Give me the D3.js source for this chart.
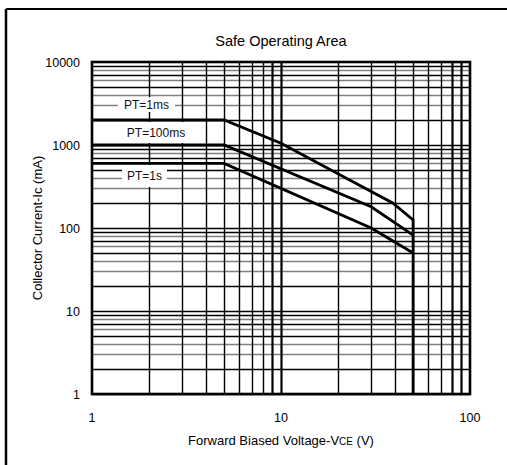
<!DOCTYPE html>
<html>
<head>
<meta charset="utf-8">
<script src="https://cdn.jsdelivr.net/npm/d3@7"></script>
<style>
  body { margin: 0; background: #fff; }
  svg { display: block; font-family: "Liberation Sans", Arial, sans-serif; }
</style>
</head>
<body>
<svg id="chart" width="507" height="465"></svg>
<script>
// values
const voltageTicks = [1, 10, 100];
const currentTicks = [1, 10, 100, 1000, 10000];
const gridMantissas = [2, 3, 4, 5, 6, 7, 8, 9];

const pt1msV = [1, 5, 10, 28, 39, 50, 50];
const pt1msI = [2000, 2000, 1050, 300, 200, 125, 1];
const pt100msV = [1, 5, 30, 50];
const pt100msI = [1000, 1000, 180, 82];
const pt1sV = [1, 5, 30, 50];
const pt1sI = [600, 600, 100, 50];

const curveNames = ["PT=1ms", "PT=100ms", "PT=1s"];

const margin = { top: 62, right: 37, bottom: 71, left: 92 };
const width = 507, height = 465;

const svg = d3.select("#chart");

const x = d3.scaleLog().domain([1, 100]).range([margin.left, width - margin.right]);
const y = d3.scaleLog().domain([1, 10000]).range([height - margin.bottom, margin.top]);

// outer frame (only left and top edges are in the picture)
svg.append("line").attr("x1", 6).attr("x2", 6).attr("y1", 9).attr("y2", height)
    .attr("stroke", "#000").attr("stroke-width", 2.5);
svg.append("line").attr("x1", 6).attr("x2", width).attr("y1", 9).attr("y2", 9)
    .attr("stroke", "#000").attr("stroke-width", 2);

// horizontal grid
const hColor = { 2: "#000", 3: "#808080", 4: "#808080", 5: "#000", 6: "#808080", 7: "#000", 8: "#808080", 9: "#000" };
const hLines = [];
for (let k = 0; k < 4; k++) {
    gridMantissas.forEach(m => hLines.push({ v: m * Math.pow(10, k), c: hColor[m] }));
    hLines.push({ v: Math.pow(10, k), c: "#000" });
}
svg.append("g")
    .selectAll("line")
    .data(hLines)
    .enter().append("line")
        .attr("x1", x(1)).attr("x2", x(100))
        .attr("y1", d => Math.round(y(d.v)) + 0.5)
        .attr("y2", d => Math.round(y(d.v)) + 0.5)
        .attr("stroke", d => d.c)
        .attr("stroke-width", 1.4);

// vertical grid
const vLines = [];
for (let k = 0; k < 2; k++) {
    gridMantissas.forEach(m => vLines.push(m * Math.pow(10, k)));
}
vLines.push(10);
const thickV = [9, 10, 80, 90];
svg.append("g")
    .selectAll("line")
    .data(vLines)
    .enter().append("line")
        .attr("x1", d => Math.round(x(d)) + 0.5)
        .attr("x2", d => Math.round(x(d)) + 0.5)
        .attr("y1", y(10000)).attr("y2", y(1))
        .attr("stroke", "#000")
        .attr("stroke-width", d => thickV.includes(d) ? 2.2 : 1.4);

// SOA curves
const series = [
    pt1msV.map((v, i) => [v, pt1msI[i]]),
    pt100msV.map((v, i) => [v, pt100msI[i]]),
    pt1sV.map((v, i) => [v, pt1sI[i]])
];
const line = d3.line().x(d => x(d[0])).y(d => y(d[1]));
svg.append("g")
    .selectAll("path")
    .data(series)
    .enter().append("path")
        .attr("d", line)
        .attr("fill", "none")
        .attr("stroke", "#000")
        .attr("stroke-width", 2.8)
        .attr("stroke-linejoin", "miter");

// curve labels sit in white boxes on top of the grid
const labelBoxes = [
    { x0: 118, y0: 97, w: 57, h: 15 },
    { x0: 122, y0: 122, w: 68, h: 21 },
    { x0: 122, y0: 165, w: 45, h: 22 }
];
const labels = svg.append("g");
curveNames.forEach((name, i) => {
    const b = labelBoxes[i];
    labels.append("rect")
        .attr("x", b.x0).attr("y", b.y0)
        .attr("width", b.w).attr("height", b.h)
        .attr("fill", "#fff");
    labels.append("text")
        .attr("x", b.x0 + b.w / 2)
        .attr("y", b.y0 + b.h / 2)
        .attr("dy", "0.36em")
        .attr("text-anchor", "middle")
        .attr("font-size", 12)
        .attr("fill", "#111")
        .text(name);
});

// plot frame
svg.append("rect")
    .attr("x", x(1)).attr("y", y(10000))
    .attr("width", x(100) - x(1)).attr("height", y(1) - y(10000))
    .attr("fill", "none")
    .attr("stroke", "#000")
    .attr("stroke-width", 2.6);

// tick labels
svg.append("g")
    .selectAll("text")
    .data(currentTicks)
    .enter().append("text")
        .attr("x", x(1) - 12)
        .attr("y", d => y(d))
        .attr("dy", "0.36em")
        .attr("text-anchor", "end")
        .attr("font-size", 12.5)
        .text(d => d);

svg.append("g")
    .selectAll("text")
    .data(voltageTicks)
    .enter().append("text")
        .attr("x", d => x(d))
        .attr("y", y(1) + 28)
        .attr("text-anchor", "middle")
        .attr("font-size", 12.5)
        .text(d => d);

// titles
svg.append("text")
    .attr("x", (x(1) + x(100)) / 2)
    .attr("y", 46)
    .attr("text-anchor", "middle")
    .attr("font-size", 14.5)
    .text("Safe Operating Area");

const xTitle = svg.append("text")
    .attr("x", (x(1) + x(100)) / 2)
    .attr("y", 445)
    .attr("text-anchor", "middle")
    .attr("font-size", 13);
xTitle.append("tspan").text("Forward Biased Voltage-V");
xTitle.append("tspan").attr("font-size", 10).text("CE");
xTitle.append("tspan").text(" (V)");

svg.append("text")
    .attr("transform", `translate(42,${(y(1) + y(10000)) / 2}) rotate(-90)`)
    .attr("text-anchor", "middle")
    .attr("font-size", 13)
    .text("Collector Current-Ic (mA)");
</script>
</body>
</html>
